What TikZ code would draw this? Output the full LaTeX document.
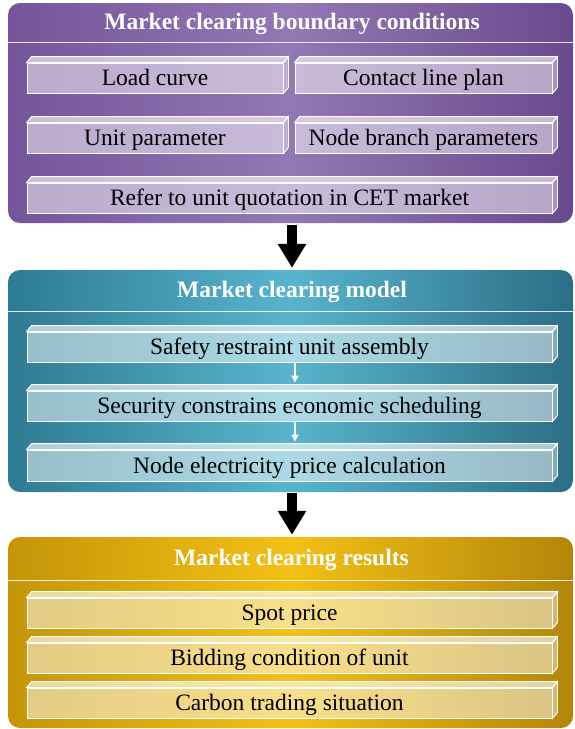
\documentclass[tikz,border=0pt]{standalone}
\usepackage{fontspec}
\setmainfont{Liberation Serif}
\usetikzlibrary{calc,arrows.meta}
\definecolor{puL}{HTML}{75559A}
\definecolor{puM}{HTML}{9278B4}
\definecolor{puR}{HTML}{6A4A8E}
\definecolor{teL}{HTML}{2E7B93}
\definecolor{teM}{HTML}{58B4CD}
\definecolor{teR}{HTML}{2B6E86}
\definecolor{goL}{HTML}{C49508}
\definecolor{goM}{HTML}{F3C015}
\definecolor{goR}{HTML}{B3860A}
\tikzset{
  panel/.style={rounded corners=12pt, inner sep=0pt, minimum width=565pt, shading=axis, shading angle=90},
  front/.style={draw=white, line width=0.9pt, fill=white, fill opacity=0.5, text opacity=1,
    inner sep=0pt, text height=15pt, text depth=0pt, font=\rmfamily\fontsize{23.5}{27}\selectfont},
  topface/.style={draw=white, line width=0.9pt, fill=white, fill opacity=0.62, draw opacity=1},
  sideface/.style={draw=white, line width=0.9pt, fill=white, fill opacity=0.4, draw opacity=1},
  title/.style={text=white, font=\rmfamily\bfseries\fontsize{23.5}{27}\selectfont, inner sep=0pt, text height=15pt, text depth=0pt},
  hline/.style={draw=white, line width=1pt, draw opacity=0.85},
  bigarr/.style={line width=10pt, -{Triangle[width=27pt,length=24pt]}},
  smallarr/.style={draw=white, line width=1.2pt, -{Triangle[width=7pt,length=7pt]}}
}
\newcommand\tbox[6]{%
  \node[front, minimum width=#4pt, minimum height=#5pt] (#1) at (#2,#3) {#6};
  \path[topface] (#1.north west) -- ++(5,-6) -- ($(#1.north east)+(5,-6)$) -- (#1.north east) -- cycle;
  \path[sideface] (#1.north east) -- ++(5,-6) -- ($(#1.south east)+(5,-6)$) -- (#1.south east) -- cycle;
}
\begin{document}
\begin{tikzpicture}[x=1pt,y=-1pt]
\useasboundingbox[fill=white] (0,0) rectangle (575,729);
% panels
\node[panel, minimum height=220pt, left color=puL, right color=puR, middle color=puM] (p1) at (290.5,113) {};
\node[panel, minimum height=222pt, left color=teL, right color=teR, middle color=teM] (p2) at (290.5,381) {};
\node[panel, minimum height=191pt, left color=goL, right color=goR, middle color=goM] (p3) at (290.5,632.5) {};
% header lines
\path[hline] ($(p1.north west)+(0,40)$) -- ($(p1.north east)+(0,40)$);
\path[hline] ($(p2.north west)+(0,42)$) -- ($(p2.north east)+(0,42)$);
\path[hline] ($(p3.north west)+(0,44)$) -- ($(p3.north east)+(0,44)$);
% titles
\node[title] (t1) at (292,22) {Market clearing boundary conditions};
\node[title] (t2) at (292,290) {Market clearing model};
\node[title] (t3) at (291.5,557.5) {Market clearing results};
% panel 1 boxes
\tbox{load}{155}{78}{256}{30}{Load curve}
\tbox{contact}{423.5}{78}{257}{30}{Contact line plan}
\tbox{unit}{155}{138}{256}{30}{Unit parameter}
\tbox{branch}{423.5}{138}{257}{30}{Node branch parameters}
\tbox{refer}{289.5}{198}{525}{30}{Refer to unit quotation in CET market}
% panel 2 boxes
\tbox{safety}{289.5}{347}{525}{30}{Safety restraint unit assembly}
\tbox{security}{289.5}{406}{525}{30}{Security constrains economic scheduling}
\tbox{nodeprice}{289.5}{465.5}{525}{31}{Node electricity price calculation}
% panel 3 boxes
\tbox{spot}{289.5}{613}{525}{30}{Spot price}
\tbox{bidding}{289.5}{658}{525}{30}{Bidding condition of unit}
\tbox{carbon}{289.5}{703}{525}{30}{Carbon trading situation}
% small arrows
\draw[smallarr] ([xshift=5.5pt,yshift=-1pt]safety.south) -- ([xshift=5.5pt,yshift=8pt]security.north);
\draw[smallarr] ([xshift=5.5pt,yshift=-1pt]security.south) -- ([xshift=5.5pt,yshift=8pt]nodeprice.north);
% big arrows
\draw[bigarr] ([xshift=1.5pt,yshift=-2pt]p1.south) -- ([xshift=1.5pt,yshift=2pt]p2.north);
\draw[bigarr] ([xshift=1.5pt,yshift=-1pt]p2.south) -- ([xshift=1.5pt,yshift=2pt]p3.north);
\end{tikzpicture}
\end{document}
